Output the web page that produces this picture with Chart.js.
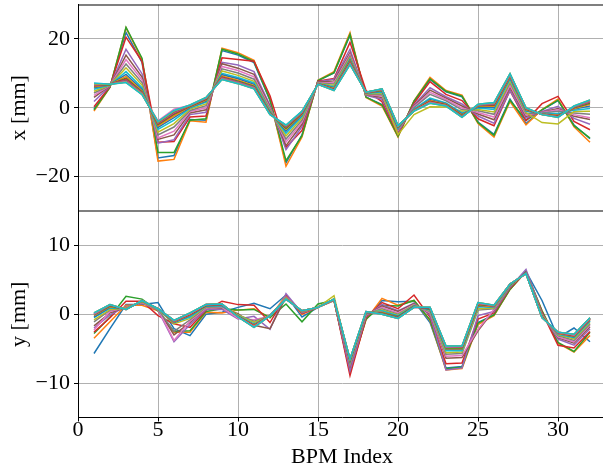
<!DOCTYPE html>
<html lang="en">
<head>
<meta charset="UTF-8">
<script src="https://cdn.jsdelivr.net/npm/chart.js"></script>
<style>
  html, body { margin: 0; padding: 0; background: #fff; overflow: hidden; }
  #wrap { width: 603px; height: 474px; overflow: hidden; }
</style>
</head>
<body>
<div id="wrap"><canvas id="orbit" width="606" height="474"></canvas></div>
<script>
// BPM index along the ring
const bpmIndex = [1,2,3,4,5,6,7,8,9,10,11,12,13,14,15,16,17,18,19,20,21,22,23,24,25,26,27,28,29,30,31,32];
const xTicks = [0, 5, 10, 15, 20, 25, 30];
const xOrbitTicks = [-20, 0, 20];
const yOrbitTicks = [-10, 0, 10];

// horizontal orbit [mm], one row per measurement
const xOrbit = [
  [-0.4, 6.1, 21.9, 13.2, -14.6, -13.9, -3.4, -3.6, 16.6, 15.3, 13.1, 2.1, -16.0, -7.9, 7.9, 10.1, 21.1, 3.1, 0.9, -8.2, 1.8, 8.2, 4.6, 3.2, -4.2, -7.7, 2.5, -4.6, -0.6, 2.1, -5.0, -9.0],
  [-1.0, 6.0, 23.2, 14.0, -15.5, -15.0, -3.8, -4.2, 17.3, 16.0, 13.8, 2.5, -17.0, -8.5, 8.0, 10.5, 21.8, 3.0, 0.5, -8.5, 2.0, 8.8, 5.0, 3.7, -4.6, -8.5, 1.8, -5.0, -0.5, 2.5, -5.5, -10.0],
  [-0.6, 6.0, 23.4, 14.4, -13.0, -13.0, -3.6, -3.2, 17.0, 15.6, 13.4, 2.3, -15.4, -8.1, 7.9, 10.2, 21.3, 3.1, 0.8, -8.3, 1.9, 8.4, 4.8, 3.4, -4.3, -8.0, 2.2, -3.6, -0.6, 2.2, -5.2, -8.8],
  [0.3, 6.2, 20.5, 13.5, -10.0, -9.8, -2.7, -2.4, 14.5, 14.0, 13.5, 3.5, -11.5, -6.6, 7.7, 8.5, 19.0, 5.0, 1.8, -7.7, 1.3, 7.6, 3.9, 2.1, -3.2, -5.2, 5.0, -3.8, 1.2, 3.3, -4.0, -6.4],
  [1.8, 6.3, 17.0, 9.9, -10.3, -9.3, -2.0, -1.3, 13.2, 12.4, 10.5, 0.7, -12.2, -5.5, 7.5, 8.3, 17.0, 3.6, 2.5, -7.2, 0.8, 5.8, 3.2, 1.1, -2.4, -4.5, 5.0, -3.0, -1.1, 0.4, -3.1, -4.8],
  [3.0, 6.4, 15.3, 8.9, -9.2, -7.9, -1.5, -0.6, 12.8, 11.5, 9.7, 0.3, -11.0, -4.8, 7.4, 7.8, 16.0, 3.8, 3.0, -6.9, 0.5, 5.1, 2.8, 0.5, -1.8, -3.5, 5.9, -2.5, -1.3, -0.2, -2.5, -3.4],
  [3.6, 6.5, 14.0, 8.1, -8.8, -6.8, -1.1, 0.0, 12.0, 10.8, 9.0, -0.1, -10.0, -4.2, 7.3, 7.3, 15.5, 3.9, 3.4, -6.6, 0.3, 4.5, 2.4, -0.1, -1.4, -2.7, 6.5, -2.1, -1.4, -0.6, -2.0, -2.9],
  [4.3, 6.5, 12.7, 7.3, -7.9, -5.6, -0.8, 0.6, 11.3, 10.1, 8.3, -0.5, -9.1, -3.6, 7.2, 6.9, 15.0, 4.0, 3.8, -6.3, 0.0, 3.9, 2.0, -0.6, -0.9, -1.9, 7.2, -1.7, -1.5, -1.0, -1.5, -1.9],
  [4.8, 6.6, 11.6, 6.6, -7.1, -4.6, -0.4, 1.1, 10.7, 9.4, 7.7, -0.8, -8.2, -3.0, 7.1, 6.5, 14.5, 4.1, 4.2, -7.8, -2.0, 0.3, 0.2, -1.0, -0.5, -1.2, 7.7, -1.4, -4.3, -4.7, -1.1, -1.0],
  [5.4, 6.6, 10.5, 5.8, -6.3, -3.6, -0.1, 1.6, 10.0, 8.8, 7.2, -1.1, -7.4, -2.5, 7.0, 6.1, 14.0, 4.2, 4.5, -5.9, -0.4, 2.8, 1.4, -1.5, -0.1, -0.5, 8.3, -1.0, -1.7, -1.7, -0.7, -0.2],
  [5.8, 6.7, 9.7, 5.3, -5.7, -2.9, 0.1, 1.9, 9.6, 8.4, 6.8, -1.3, -6.8, -2.1, 7.0, 5.8, 13.9, 4.3, 4.8, -5.7, -0.6, 2.4, 1.2, -1.8, 0.2, 0.0, 8.7, -0.8, -1.8, -2.0, -0.4, 0.5],
  [6.1, 6.7, 9.1, 4.9, -5.3, -2.4, 0.3, 2.2, 9.2, 8.0, 6.4, -1.5, -6.3, -1.8, 6.9, 5.6, 13.5, 4.3, 5.0, -5.6, -0.7, 2.1, 1.0, -2.1, 0.4, 0.4, 9.0, -0.6, -1.8, -2.2, -0.2, 1.0],
  [6.4, 6.7, 8.6, 4.6, -4.9, -1.9, 0.4, 2.4, 8.9, 7.7, 6.2, -1.6, -6.0, -1.6, 6.9, 5.4, 13.2, 4.4, 5.1, -5.5, -0.8, 1.9, 0.9, -2.3, 0.6, 0.7, 9.3, -0.4, -1.9, -2.4, 0.0, 1.3],
  [6.5, 6.8, 8.3, 4.4, -4.7, -1.7, 0.5, 2.6, 8.8, 7.5, 6.0, -1.7, -5.7, -1.5, 6.9, 5.3, 13.1, 4.4, 5.2, -5.4, -0.8, 1.8, 0.8, -2.4, 0.7, 0.9, 9.4, -0.3, -1.9, -2.5, 0.1, 1.6],
  [6.6, 6.8, 8.0, 4.3, -4.5, -1.4, 0.6, 2.7, 8.6, 7.4, 5.9, -1.8, -5.5, -1.3, 6.9, 5.2, 12.9, 4.4, 5.3, -5.3, -0.9, 1.6, 0.7, -2.5, 0.7, 1.1, 9.5, -0.2, -1.9, -2.6, 0.2, 1.7],
  [6.8, 6.8, 7.8, 4.1, -4.3, -1.2, 0.7, 2.8, 8.5, 7.3, 5.7, -1.9, -5.4, -1.2, 6.8, 5.2, 12.8, 4.5, 5.4, -5.3, -0.9, 1.5, 0.6, -2.6, 0.8, 1.2, 9.7, -0.1, -2.0, -2.6, 0.3, 1.9],
  [6.8, 6.8, 7.6, 4.0, -3.8, -0.4, 0.7, 2.9, 8.4, 7.2, 5.7, -1.9, -5.2, -1.2, 6.8, 5.1, 12.7, 4.5, 5.4, -5.3, -0.9, 1.5, 0.6, -2.7, 0.9, 1.3, 9.7, -0.1, -2.0, -2.7, 0.4, 2.0],
  [6.9, 6.8, 7.5, 3.9, -4.1, -1.0, 0.7, 2.9, 8.3, 7.1, 5.6, -1.9, -5.1, -1.1, 6.8, 5.1, 12.6, 4.5, 5.4, -5.2, -1.0, 1.4, 0.6, -2.7, 0.9, 1.4, 9.8, -0.1, -2.0, -2.7, 0.4, 2.1],
  [7.0, 6.8, 7.4, 3.9, -4.1, -0.9, 0.8, 3.0, 8.2, 7.0, 5.5, -2.0, -5.1, -1.0, 6.8, 5.0, 12.5, 4.5, 5.5, -5.2, -1.0, 1.3, 0.5, -2.8, 1.0, 1.5, 9.9, 0.0, -2.0, -2.8, 0.5, 2.3],
  [7.2, 6.8, 7.3, 3.8, -4.0, -0.8, 0.8, 3.0, 8.2, 7.0, 5.5, -2.0, -5.0, -1.0, 6.8, 5.0, 12.5, 4.5, 5.5, -5.2, -1.0, 1.3, 0.5, -2.8, 1.0, 1.5, 9.9, 0.0, -2.0, -2.8, 0.5, 2.3]
];

// vertical orbit [mm], same measurements
const yOrbit = [
  [-5.7, -2.1, 1.4, 1.4, 1.7, -2.1, -3.1, 0.0, 0.3, 1.0, 1.6, 0.8, 2.8, -0.4, 1.0, 2.0, -8.2, -0.7, 2.0, 1.8, 1.9, -1.2, -7.8, -7.6, -1.2, -0.1, 3.7, 6.2, 2.0, -3.4, -2.0, -4.0],
  [-3.5, -1.1, 1.3, 1.3, 0.5, -2.6, -2.6, 0.3, 0.2, 0.6, 0.8, -0.5, 2.8, 0.0, 1.0, 2.0, -8.4, -0.8, 2.3, 1.3, 2.0, -0.9, -8.1, -7.9, -1.5, -0.2, 3.6, 6.2, 0.5, -4.2, -5.5, -3.1],
  [-2.8, -0.4, 2.6, 2.2, 0.5, -2.5, -2.4, 0.4, 0.8, 0.6, 0.7, -0.5, 1.5, -1.1, 1.5, 2.0, -8.3, -0.7, 1.3, 1.2, 2.0, -0.8, -7.9, -7.7, -1.3, -0.1, 3.6, 6.2, 0.5, -4.1, -5.4, -2.6],
  [-2.6, -0.5, 1.9, 1.9, -0.2, -1.4, -1.9, 0.6, 1.9, 1.4, 1.3, -1.2, 2.7, 0.1, 1.0, 2.1, -8.9, -0.5, 1.7, 0.8, 2.8, -0.4, -7.2, -7.1, -0.7, 0.2, 3.8, 6.1, 0.3, -4.5, -4.9, -2.5],
  [-2.0, -0.1, 1.1, 1.6, 0.6, -4.0, -1.5, 0.7, 0.7, -0.7, -0.3, -2.2, 3.0, 0.2, 1.0, 2.1, -8.2, -0.3, 1.4, 0.5, 1.6, -0.1, -8.1, -7.8, -0.2, 0.4, 3.9, 6.5, 0.1, -3.6, -4.5, -2.1],
  [-1.7, 0.2, 1.0, 1.7, 0.7, -3.0, -1.2, 0.9, 0.9, 0.1, -1.6, -2.1, 2.5, 0.3, 1.0, 2.1, -7.5, -0.2, 1.2, 0.4, 1.5, 0.1, -6.4, -6.3, -2.4, 0.6, 4.0, 6.1, 0.0, -3.4, -4.2, -1.8],
  [-2.3, 0.4, 1.0, 1.7, 0.7, -3.8, -1.0, 0.9, 1.0, -0.6, -0.8, -0.3, 2.5, 0.3, 1.0, 2.1, -7.3, -0.1, 1.0, 0.2, 1.4, 0.2, -6.1, -6.0, -2.2, 0.7, 4.1, 6.0, -0.1, -3.3, -4.0, -1.6],
  [-1.1, 0.6, 0.9, 1.8, 0.7, -2.5, -0.8, 1.0, 1.1, -0.1, -1.0, -0.3, 2.4, 0.3, 1.0, 2.1, -7.2, 0.0, 0.8, 0.0, 1.3, 0.4, -5.8, -5.7, 0.6, 0.8, 4.1, 6.0, -0.2, -3.1, -3.8, -1.4],
  [-0.8, 0.7, 0.9, 1.8, 0.7, -1.4, -0.6, 1.1, 1.2, -0.1, -1.2, -0.3, 2.4, 0.4, 1.0, 2.7, -7.0, 0.1, 0.6, -0.1, 1.3, 0.5, -5.6, -5.5, 0.8, 0.9, 4.2, 6.0, -0.2, -3.0, -3.6, -1.2],
  [-0.5, 0.9, 0.8, 1.9, 0.7, -1.2, -0.4, 1.2, 1.2, -0.2, -1.4, -0.3, 2.3, 0.4, 1.0, 2.2, -6.9, 0.2, 0.5, -0.2, 1.2, 0.6, -5.3, -5.3, 1.1, 1.0, 4.2, 6.0, -0.3, -2.9, -3.4, -1.0],
  [-0.4, 1.0, 0.8, 1.9, 0.8, -1.2, -0.2, 1.2, 1.3, -0.3, -1.5, -0.2, 2.3, 0.4, 1.0, 2.2, -6.8, 0.2, 0.3, -0.3, 1.2, 0.7, -5.1, -5.1, 1.2, 1.1, 4.3, 6.0, -0.4, -2.8, -3.3, -0.9],
  [-0.2, 1.1, 0.8, 1.9, 0.8, -1.1, -0.1, 1.3, 1.4, -0.3, -1.6, -0.2, 2.3, 0.4, 1.0, 2.2, -6.7, 0.3, 0.3, -0.4, 1.1, 0.8, -5.0, -5.0, 1.3, 1.1, 4.3, 5.9, -0.4, -2.8, -3.2, -0.8],
  [-0.1, 1.2, 0.7, 1.9, 0.8, -1.0, 0.0, 1.3, 1.4, -0.3, -1.7, -0.2, 2.2, 0.5, 1.0, 2.2, -6.7, 0.3, 0.2, -0.4, 1.1, 0.8, -4.9, -4.9, 1.4, 1.2, 4.3, 5.9, -0.4, -2.7, -3.1, -0.7],
  [0.0, 1.3, 0.7, 2.0, 0.8, -1.0, 0.0, 1.3, 1.4, -0.3, -1.7, -0.2, 2.2, 0.5, 1.0, 2.2, -6.6, 0.3, 0.1, -0.5, 1.1, 0.9, -4.8, -4.8, 1.5, 1.2, 4.4, 5.9, -0.4, -2.7, -3.1, -0.7],
  [0.0, 1.3, 0.7, 2.0, 0.8, -1.0, 0.1, 1.4, 1.4, -0.4, -1.8, -0.2, 2.2, 0.5, 1.0, 2.2, -6.6, 0.3, 0.1, -0.5, 1.0, 0.9, -4.8, -4.7, 1.6, 1.2, 4.4, 5.9, -0.5, -2.7, -3.0, -0.6],
  [0.1, 1.3, 0.7, 2.0, 0.8, -0.9, 0.1, 1.4, 1.5, -0.4, -1.8, -0.2, 2.2, 0.5, 1.0, 2.2, -6.6, 0.4, 0.1, -0.5, 1.0, 0.9, -4.7, -4.7, 1.6, 1.3, 4.4, 5.9, -0.5, -2.6, -3.0, -0.6],
  [0.1, 1.4, 0.7, 2.0, 0.8, -0.9, 0.1, 1.4, 1.5, -0.4, -1.8, -0.2, 2.2, 0.5, 1.0, 2.2, -6.5, 0.4, 0.0, -0.6, 1.0, 1.0, -4.7, -4.7, 1.6, 1.3, 4.4, 5.9, -0.5, -2.6, -3.0, -0.6],
  [0.2, 1.4, 0.7, 2.0, 0.8, -0.9, 0.2, 1.4, 1.5, -0.4, -1.9, -0.2, 2.2, 0.5, 1.0, 2.2, -6.5, 0.4, 0.0, -0.6, 1.0, 1.0, -4.6, -4.6, 1.7, 1.3, 4.4, 5.9, -0.5, -2.6, -2.9, -0.5],
  [0.2, 1.4, 0.7, 2.0, 0.8, -0.9, 0.2, 1.4, 1.5, -0.4, -1.9, -0.2, 2.2, 0.5, 1.0, 2.2, -6.5, 0.4, 0.0, -0.6, 1.0, 1.0, -4.6, -4.6, 1.7, 1.3, 4.4, 5.9, -0.5, -2.6, -2.9, -0.5],
  [0.2, 1.4, 0.7, 2.0, 0.8, -0.9, 0.2, 1.4, 1.5, -0.4, -1.9, -0.2, 2.2, 0.5, 1.0, 2.2, -6.5, 0.4, 0.0, -0.6, 1.0, 1.0, -4.6, -4.6, 1.7, 1.3, 4.4, 5.9, -0.5, -2.6, -2.9, -0.5]
];

const tab10 = ['#1f77b4', '#ff7f0e', '#2ca02c', '#d62728', '#9467bd', '#8c564b', '#e377c2', '#7f7f7f', '#bcbd22', '#17becf'];

Chart.defaults.font.family = "'Liberation Serif', 'Times New Roman', serif";
Chart.defaults.color = '#000';

const datasets = [];
function addRows(rows, axis) {
    rows.forEach((row, k) => {
        datasets.push({
            data: row.map((v, i) => ({ x: bpmIndex[i], y: v })),
            yAxisID: axis,
            borderColor: tab10[k % 10],
            borderWidth: 1.5,
            pointRadius: 0,
            tension: 0,
            fill: false,
            order: rows.length - k   // later runs on top, like matplotlib
        });
    });
}
addRows(xOrbit, 'yTop');
addRows(yOrbit, 'yBot');

const minus = v => String(v).replace('-', '\u2212');
const tickFont = { size: 22, lineHeight: 1 };
const titleFont = { size: 22 };

function yAxis(min, max, ticks, title, weight) {
    return {
        type: 'linear',
        position: 'left',
        stack: 'orbit',
        stackWeight: 1,
        weight: weight,
        min: min,
        max: max,
        afterBuildTicks: s => { s.ticks = ticks.map(v => ({ value: v })); },
        // fixed axis width, no extra room for the outer tick labels
        afterFit: s => { s.width = 78; s.paddingTop = 0; s.paddingBottom = 0; },
        grid: { color: '#b0b0b0', lineWidth: 1, tickColor: '#000', tickLength: 4 },
        border: { color: '#000', width: 1 },
        ticks: { font: tickFont, color: '#000', padding: 4, callback: minus },
        title: { display: true, text: title, font: titleFont, color: '#000', padding: { top: 6, bottom: 0 } }
    };
}

// black frame lines: top spine and the shared spine between the panels
const frame = {
    id: 'frame',
    afterDatasetsDraw(chart) {
        const { ctx, chartArea: a, scales } = chart;
        ctx.save();
        ctx.strokeStyle = '#000';
        ctx.lineWidth = 1.2;
        ctx.beginPath();
        ctx.moveTo(a.left, a.top + 0.5);
        ctx.lineTo(a.right, a.top + 0.5);
        ctx.moveTo(a.left, scales.yTop.bottom);
        ctx.lineTo(a.right, scales.yTop.bottom);
        ctx.stroke();
        ctx.restore();
    }
};

new Chart(document.getElementById('orbit'), {
    type: 'line',
    data: { datasets: datasets },
    options: {
        responsive: false,
        animation: false,
        layout: { padding: { top: 4.5, left: 0, right: 0, bottom: 0 } },
        plugins: { legend: { display: false }, tooltip: { enabled: false } },
        scales: {
            x: {
                type: 'linear',
                min: 0,
                max: 33,
                afterBuildTicks: s => { s.ticks = xTicks.map(v => ({ value: v })); },
                afterFit: s => { s.height = 56.5; s.paddingLeft = 0; s.paddingRight = 0; },
                grid: { color: '#b0b0b0', lineWidth: 1, tickColor: '#000', tickLength: 4 },
                border: { color: '#000', width: 1 },
                ticks: { font: tickFont, color: '#000', padding: -2, maxRotation: 0 },
                title: { display: true, text: 'BPM Index', font: titleFont, color: '#000', padding: { top: 0, bottom: 4 } }
            },
            yBot: yAxis(-15, 15, yOrbitTicks, 'y [mm]', 0),
            yTop: yAxis(-30, 30, xOrbitTicks, 'x [mm]', 1)
        }
    },
    plugins: [frame]
});
</script>
</body>
</html>
